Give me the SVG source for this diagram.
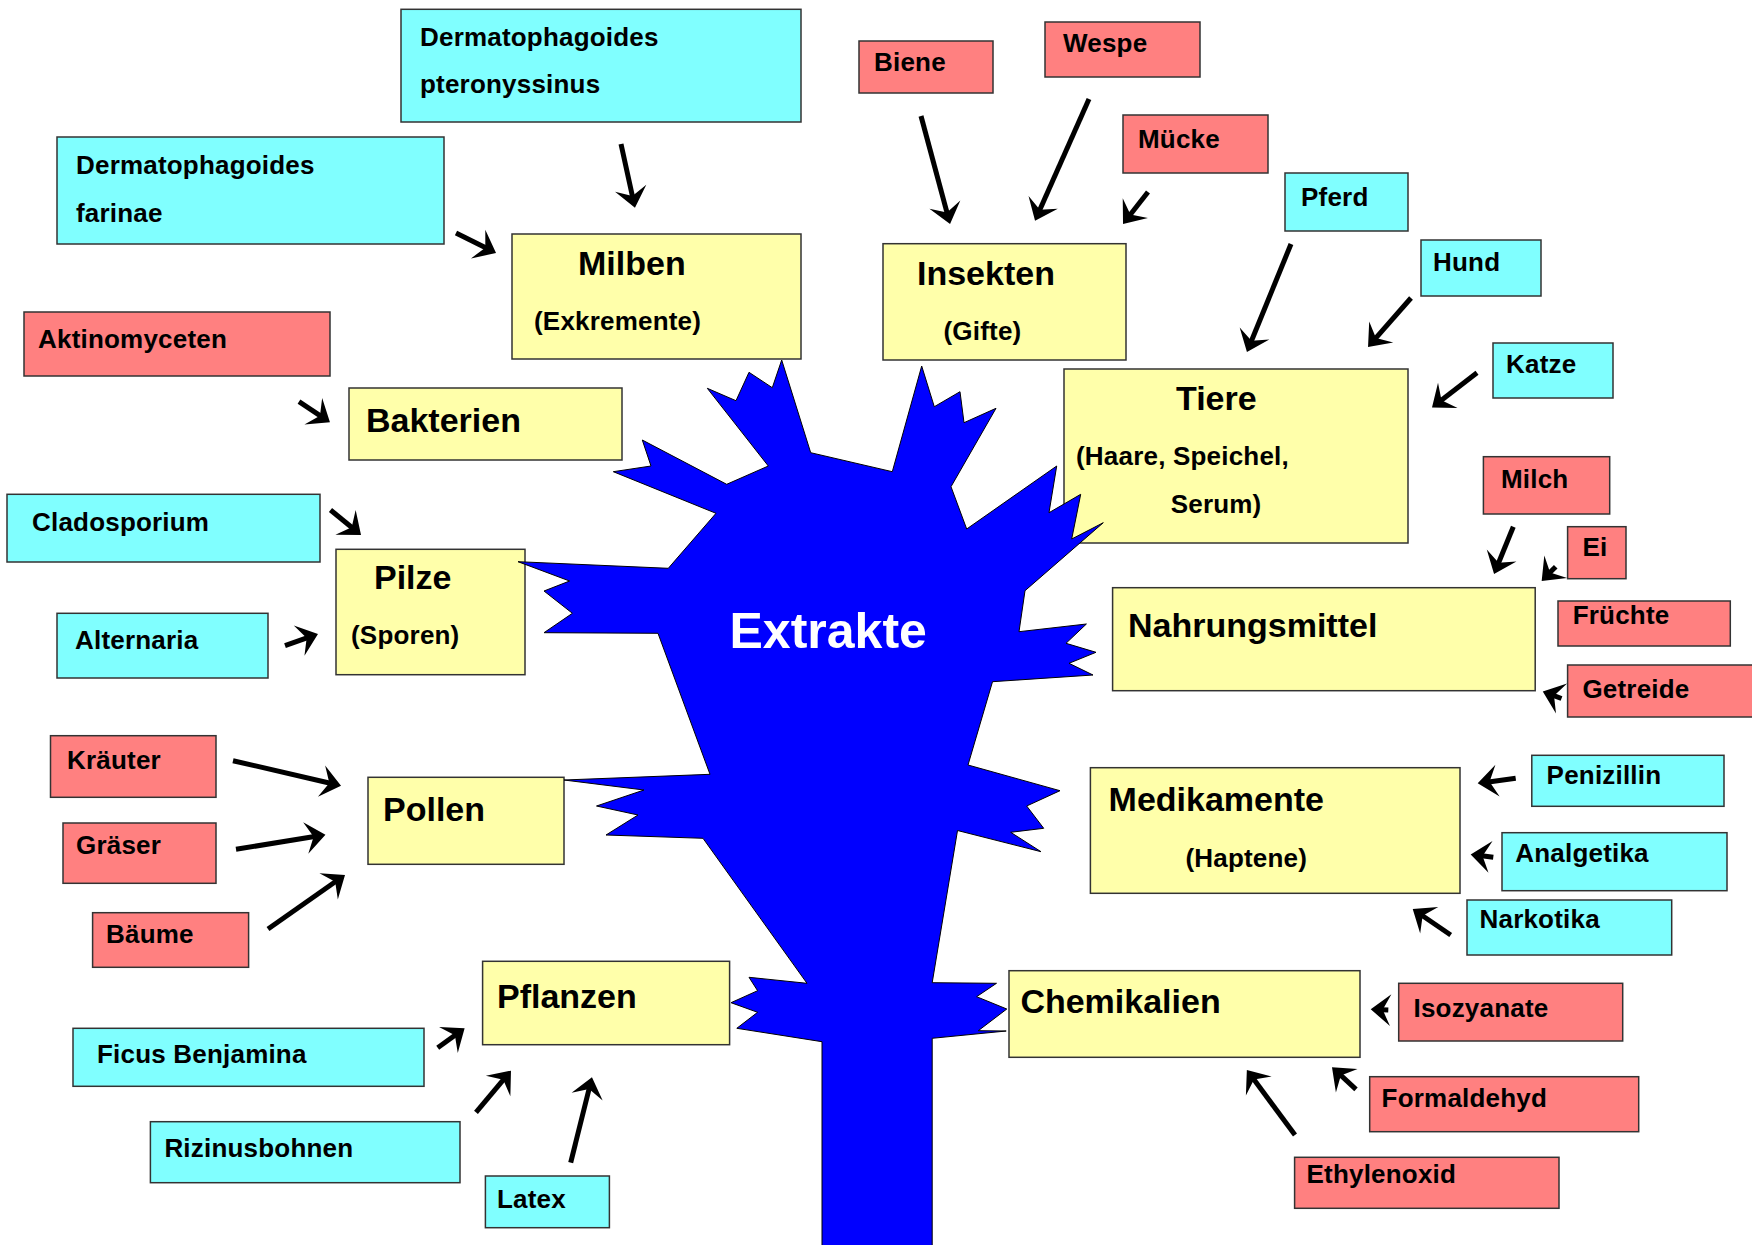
<svg xmlns="http://www.w3.org/2000/svg" width="1752" height="1245" viewBox="0 0 1752 1245">
<defs>
<style>
.c{fill:#80FFFF;stroke:#333;stroke-width:1.5}
.r{fill:#FF8080;stroke:#333;stroke-width:1.5}
.y{fill:#FFFFAA;stroke:#333;stroke-width:1.5}
text{font-family:"Liberation Sans",Arial,sans-serif;font-weight:bold;fill:#000}
.s{font-size:26px;letter-spacing:0.2px}
.t{font-size:34px}
.x{font-size:50px;fill:#fff}
.a{stroke:#000;stroke-width:5;fill:none;marker-end:url(#ah)}
</style>
<marker id="ah" markerUnits="userSpaceOnUse" orient="auto" refX="0" refY="0" viewBox="-12 -18 26 36" markerWidth="26" markerHeight="36">
<path d="M11,0 L-9,-16 L-1,0 L-9,16 Z" fill="#000"/>
</marker>
</defs>
<rect width="1752" height="1245" fill="#fff"/>

<g id="n-pteronyssinus"><rect class="c" x="401" y="9.3" width="400" height="112.7"/><text class="s" x="420" y="46">Dermatophagoides</text><text class="s" x="420" y="93.3">pteronyssinus</text></g>
<g id="n-farinae"><rect class="c" x="57" y="137" width="387" height="107"/><text class="s" x="76" y="174">Dermatophagoides</text><text class="s" x="76" y="221.7">farinae</text></g>
<g id="n-aktinomyceten"><rect class="r" x="24" y="312" width="306" height="64"/><text class="s" x="38" y="348">Aktinomyceten</text></g>
<g id="n-biene"><rect class="r" x="859" y="41" width="134" height="52"/><text class="s" x="874" y="71">Biene</text></g>
<g id="n-wespe"><rect class="r" x="1045" y="22" width="155" height="55"/><text class="s" x="1063" y="52">Wespe</text></g>
<g id="n-muecke"><rect class="r" x="1123" y="115" width="145" height="58"/><text class="s" x="1138" y="148">Mücke</text></g>
<g id="n-pferd"><rect class="c" x="1285" y="173" width="123" height="58"/><text class="s" x="1301" y="206">Pferd</text></g>
<g id="n-hund"><rect class="c" x="1421" y="240" width="120" height="56"/><text class="s" x="1433" y="271">Hund</text></g>
<g id="n-katze"><rect class="c" x="1493" y="343" width="120" height="55"/><text class="s" x="1506" y="373">Katze</text></g>
<g id="n-milben"><rect class="y" x="512" y="234" width="289" height="125"/><text class="t" x="578" y="275">Milben</text><text class="s" x="534" y="330">(Exkremente)</text></g>
<g id="n-insekten"><rect class="y" x="883" y="243.7" width="243" height="116.3"/><text class="t" x="917" y="285">Insekten</text><text class="s" x="943.5" y="340">(Gifte)</text></g>
<g id="n-tiere"><rect class="y" x="1064" y="369" width="344" height="174"/><text class="t" x="1176" y="410">Tiere</text><text class="s" x="1076" y="465">(Haare, Speichel,</text><text class="s" x="1170.7" y="512.7">Serum)</text></g>
<g id="n-bakterien"><rect class="y" x="349" y="388" width="273" height="72"/><text class="t" x="366" y="431.7">Bakterien</text></g>
<g id="n-cladosporium"><rect class="c" x="7" y="494.3" width="313" height="67.7"/><text class="s" x="32" y="530.7">Cladosporium</text></g>
<g id="n-pilze"><rect class="y" x="336" y="549.3" width="189" height="125.4"/><text class="t" x="374" y="589.3">Pilze</text><text class="s" x="351" y="644.3">(Sporen)</text></g>
<g id="n-alternaria"><rect class="c" x="57" y="613.3" width="211" height="64.7"/><text class="s" x="75" y="649.3">Alternaria</text></g>
<g id="n-kraeuter"><rect class="r" x="50.5" y="735.7" width="165.5" height="61.6"/><text class="s" x="67" y="769.3">Kräuter</text></g>
<g id="n-pollen"><rect class="y" x="368" y="777.3" width="196" height="87"/><text class="t" x="383" y="821">Pollen</text></g>
<g id="n-graeser"><rect class="r" x="63" y="823" width="153" height="60.3"/><text class="s" x="76" y="854.3">Gräser</text></g>
<g id="n-baeume"><rect class="r" x="92.6" y="912.7" width="156" height="54.6"/><text class="s" x="106" y="943.3">Bäume</text></g>
<g id="n-pflanzen"><rect class="y" x="482.6" y="961.3" width="247" height="83.4"/><text class="t" x="497" y="1007.7">Pflanzen</text></g>
<g id="n-ficus"><rect class="c" x="73" y="1028.3" width="351" height="58"/><text class="s" x="97" y="1063.3">Ficus Benjamina</text></g>
<g id="n-rizinus"><rect class="c" x="150.4" y="1121.7" width="309.6" height="61"/><text class="s" x="164.4" y="1156.7">Rizinusbohnen</text></g>
<g id="n-latex"><rect class="c" x="485.4" y="1176" width="124" height="51.7"/><text class="s" x="497" y="1207.7">Latex</text></g>
<g id="n-milch"><rect class="r" x="1483.4" y="456.7" width="126.3" height="57.3"/><text class="s" x="1501" y="487.7">Milch</text></g>
<g id="n-ei"><rect class="r" x="1567.6" y="526.7" width="58.4" height="52"/><text class="s" x="1582.4" y="555.7">Ei</text></g>
<g id="n-nahrungsmittel"><rect class="y" x="1112.6" y="587.7" width="422.6" height="103"/><text class="t" x="1128" y="636.7">Nahrungsmittel</text></g>
<g id="n-fruechte"><rect class="r" x="1558" y="601" width="172.3" height="45"/><text class="s" x="1572.7" y="624.3">Früchte</text></g>
<g id="n-getreide"><rect class="r" x="1567.6" y="665" width="200" height="52"/><text class="s" x="1582.4" y="697.7">Getreide</text></g>
<g id="n-penizillin"><rect class="c" x="1531.8" y="755.3" width="192.2" height="51"/><text class="s" x="1546.6" y="784.3">Penizillin</text></g>
<g id="n-medikamente"><rect class="y" x="1090.4" y="767.7" width="369.6" height="125.6"/><text class="t" x="1108.6" y="811">Medikamente</text><text class="s" x="1185.4" y="866.7">(Haptene)</text></g>
<g id="n-analgetika"><rect class="c" x="1502" y="832.7" width="225" height="58"/><text class="s" x="1515.3" y="861.7">Analgetika</text></g>
<g id="n-narkotika"><rect class="c" x="1467" y="900" width="204.7" height="55"/><text class="s" x="1479.5" y="928.3">Narkotika</text></g>
<g id="n-chemikalien"><rect class="y" x="1009" y="970.7" width="351" height="86.6"/><text class="t" x="1020.4" y="1012.7">Chemikalien</text></g>
<g id="n-isozyanate"><rect class="r" x="1398.7" y="983.3" width="224" height="57.7"/><text class="s" x="1413.5" y="1016.7">Isozyanate</text></g>
<g id="n-formaldehyd"><rect class="r" x="1369.7" y="1076.7" width="269" height="55"/><text class="s" x="1381.6" y="1106.7">Formaldehyd</text></g>
<g id="n-ethylenoxid"><rect class="r" x="1294.6" y="1157.3" width="264.4" height="51"/><text class="s" x="1306.5" y="1183.3">Ethylenoxid</text></g>

<g id="n-extrakte">
<path fill="#0000FF" stroke="#000" stroke-width="1" stroke-linejoin="miter" d="M518,561.7 L668.3,568.3 L716,513.3 L613.3,471.7 L651,466 L642.3,440 L726.7,484.3 L768.3,466 L707.3,388.3 L736,400.7 L749,372.3 L772.3,387.7 L781.7,360 L810.7,452.7 L892.3,471.7 L921.7,366 L934.3,406.7 L960,391.7 L964,422.7 L996,408.3 L951,486.7 L966.7,529 L1056.7,466 L1049,512.7 L1080.7,494.3 L1071.7,539 L1103.3,522.7 L1025,590.7 L1019,631.7 L1086.4,624 L1066,643.3 L1096,652.3 L1069,663.3 L1093,675 L992.5,681.7 L968,765 L1060,790.7 L1026.7,806 L1043.7,828.3 L1010.7,832.3 L1041,851.7 L957.5,830.5 L932.2,982.7 L996.5,983.3 L976.6,996.7 L1006.8,1009 L978.3,1030.7 L1006.2,1031 L932.2,1038.3 L932.2,1246 L822,1246 L822,1041.7 L736.8,1028.3 L757.6,1012.3 L731,1002.7 L757.6,990.7 L749,977.3 L807,983.3 L703,838.3 L606,835 L638,815 L596.5,806 L644,790 L564,780 L710,774.3 L658,633.3 L544,632.7 L572.4,613.3 L544,591 L569.6,581 Z"/>
<text class="x" x="729.5" y="648.3">Extrakte</text>
</g>

<g id="connectors">
<line class="a" x1="621" y1="144" x2="632.6" y2="197"/>
<line class="a" x1="456" y1="233" x2="486.2" y2="248.1"/>
<line class="a" x1="299" y1="401.7" x2="320.8" y2="416.2"/>
<line class="a" x1="330.5" y1="510" x2="352.5" y2="528"/>
<line class="a" x1="285" y1="645.7" x2="307.6" y2="637.7"/>
<line class="a" x1="233" y1="760.7" x2="330.3" y2="783.2"/>
<line class="a" x1="236" y1="849.3" x2="314.6" y2="836.5"/>
<line class="a" x1="268" y1="929" x2="336" y2="881.3"/>
<line class="a" x1="437.7" y1="1047.7" x2="455.7" y2="1034.7"/>
<line class="a" x1="476" y1="1112.3" x2="503.9" y2="1079.1"/>
<line class="a" x1="570.7" y1="1162.7" x2="589.3" y2="1088"/>
<line class="a" x1="921" y1="116" x2="947.2" y2="213.4"/>
<line class="a" x1="1089" y1="99" x2="1039.5" y2="210.6"/>
<line class="a" x1="1148" y1="192" x2="1129.8" y2="215.3"/>
<line class="a" x1="1291" y1="244" x2="1251.1" y2="341.8"/>
<line class="a" x1="1411" y1="298" x2="1375.3" y2="338.7"/>
<line class="a" x1="1477" y1="372.7" x2="1440.7" y2="400.8"/>
<line class="a" x1="1513.3" y1="526.7" x2="1498.2" y2="563.8"/>
<line class="a" x1="1555.7" y1="566.7" x2="1549.4" y2="573.1"/>
<line class="a" x1="1561.5" y1="698.5" x2="1553.1" y2="695.4"/>
<line class="a" x1="1515.7" y1="778.3" x2="1488.6" y2="781.9"/>
<line class="a" x1="1493.3" y1="857.3" x2="1481.6" y2="855.8"/>
<line class="a" x1="1450.7" y1="935" x2="1421.8" y2="915.2"/>
<line class="a" x1="1388.3" y1="1010" x2="1381.7" y2="1009.7"/>
<line class="a" x1="1356" y1="1089.3" x2="1340.1" y2="1074.7"/>
<line class="a" x1="1295" y1="1135" x2="1253.4" y2="1078.8"/>
</g>
</svg>
